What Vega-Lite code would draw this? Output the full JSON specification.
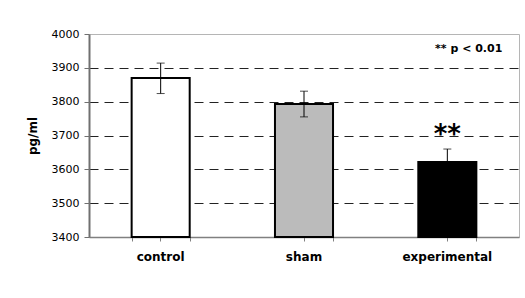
{
  "$schema": "https://vega.github.io/schema/vega-lite/v6.json",
  "width": 430,
  "height": 203,
  "autosize": {"type": "none"},
  "padding": {"left": 89, "top": 34, "right": 6, "bottom": 61},
  "background": "white",
  "config": {
    "view": {"stroke": "#b5b5b5", "strokeWidth": 1},
    "font": "DejaVu Sans",
    "axisY": {
      "grid": true,
      "gridDash": [9, 6],
      "gridColor": "#222222",
      "gridWidth": 1,
      "domainColor": "#707070",
      "domainWidth": 2,
      "tickColor": "#707070",
      "tickSize": 5,
      "labelFontSize": 11,
      "labelColor": "black",
      "labelPadding": 5,
      "titleFontSize": 12,
      "titleFontWeight": "bold",
      "titleColor": "black",
      "titlePadding": 12
    },
    "axisX": {
      "labelAngle": 0,
      "labelFontSize": 12,
      "labelFontWeight": "bold",
      "labelColor": "black",
      "labelPadding": 10,
      "tickSize": 4,
      "tickColor": "#808080",
      "domainColor": "#808080",
      "domainWidth": 1.5,
      "grid": false
    }
  },
  "resolve": {"axis": {"x": "independent"}},
  "data": {
    "values": [
      {"group": "control", "mean": 3870, "lo": 3824, "hi": 3914, "sig": ""},
      {"group": "sham", "mean": 3793, "lo": 3755, "hi": 3831, "sig": ""},
      {"group": "experimental", "mean": 3622, "lo": 3584, "hi": 3660, "sig": "**"}
    ]
  },
  "layer": [
    {
      "mark": {"type": "bar", "stroke": "black", "strokeWidth": 2},
      "encoding": {
        "x": {
          "field": "group",
          "type": "nominal",
          "sort": ["control", "sham", "experimental"],
          "scale": {"paddingInner": 0.595, "paddingOuter": 0.2975},
          "axis": {"title": null, "orient": "bottom"}
        },
        "y": {
          "field": "mean",
          "type": "quantitative",
          "scale": {"domain": [3400, 4000], "nice": false, "zero": false},
          "axis": {
            "title": "pg/ml",
            "format": "d",
            "values": [3400, 3500, 3600, 3700, 3800, 3900, 4000],
            "gridOpacity": {"condition": {"test": "datum.value == 4000 || datum.value == 3400", "value": 0}, "value": 1}
          }
        },
        "y2": {"datum": 3400},
        "fill": {
          "field": "group",
          "type": "nominal",
          "scale": {"domain": ["control", "sham", "experimental"], "range": ["white", "#bbbbbb", "black"]},
          "legend": null
        }
      }
    },
    {
      "mark": {"type": "rule", "color": "black", "strokeWidth": 1},
      "encoding": {
        "x": {
          "field": "group",
          "type": "nominal",
          "sort": ["control", "sham", "experimental"],
          "axis": {"title": null, "orient": "bottom", "tickBand": "extent", "labels": false, "domain": false}
        },
        "y": {"field": "lo", "type": "quantitative", "axis": {"title": "pg/ml", "format": "d", "values": [3400, 3500, 3600, 3700, 3800, 3900, 4000]}},
        "y2": {"field": "hi"}
      }
    },
    {
      "mark": {"type": "tick", "color": "black", "size": 8, "thickness": 1, "orient": "horizontal"},
      "encoding": {
        "x": {"field": "group", "type": "nominal", "sort": ["control", "sham", "experimental"], "axis": null},
        "y": {"field": "hi", "type": "quantitative", "axis": {"title": "pg/ml", "format": "d", "values": [3400, 3500, 3600, 3700, 3800, 3900, 4000]}}
      }
    },
    {
      "mark": {"type": "tick", "color": "black", "size": 8, "thickness": 1, "orient": "horizontal"},
      "encoding": {
        "x": {"field": "group", "type": "nominal", "sort": ["control", "sham", "experimental"], "axis": null},
        "y": {"field": "lo", "type": "quantitative", "axis": {"title": "pg/ml", "format": "d", "values": [3400, 3500, 3600, 3700, 3800, 3900, 4000]}}
      }
    },
    {
      "mark": {"type": "text", "fontSize": 26, "fontWeight": "bold", "baseline": "alphabetic", "dy": -6, "color": "black"},
      "encoding": {
        "x": {"field": "group", "type": "nominal", "sort": ["control", "sham", "experimental"], "axis": null},
        "y": {"field": "hi", "type": "quantitative", "axis": {"title": "pg/ml", "format": "d", "values": [3400, 3500, 3600, 3700, 3800, 3900, 4000]}},
        "text": {"field": "sig"}
      }
    },
    {
      "data": {"values": [{"note": "** p < 0.01"}]},
      "mark": {"type": "text", "fontSize": 11, "fontWeight": "bold", "align": "right", "baseline": "middle", "dx": 55, "color": "black"},
      "encoding": {
        "x": {"datum": "experimental", "axis": null},
        "y": {"datum": 3955, "axis": {"title": "pg/ml", "format": "d", "values": [3400, 3500, 3600, 3700, 3800, 3900, 4000]}},
        "text": {"field": "note"}
      }
    }
  ]
}
